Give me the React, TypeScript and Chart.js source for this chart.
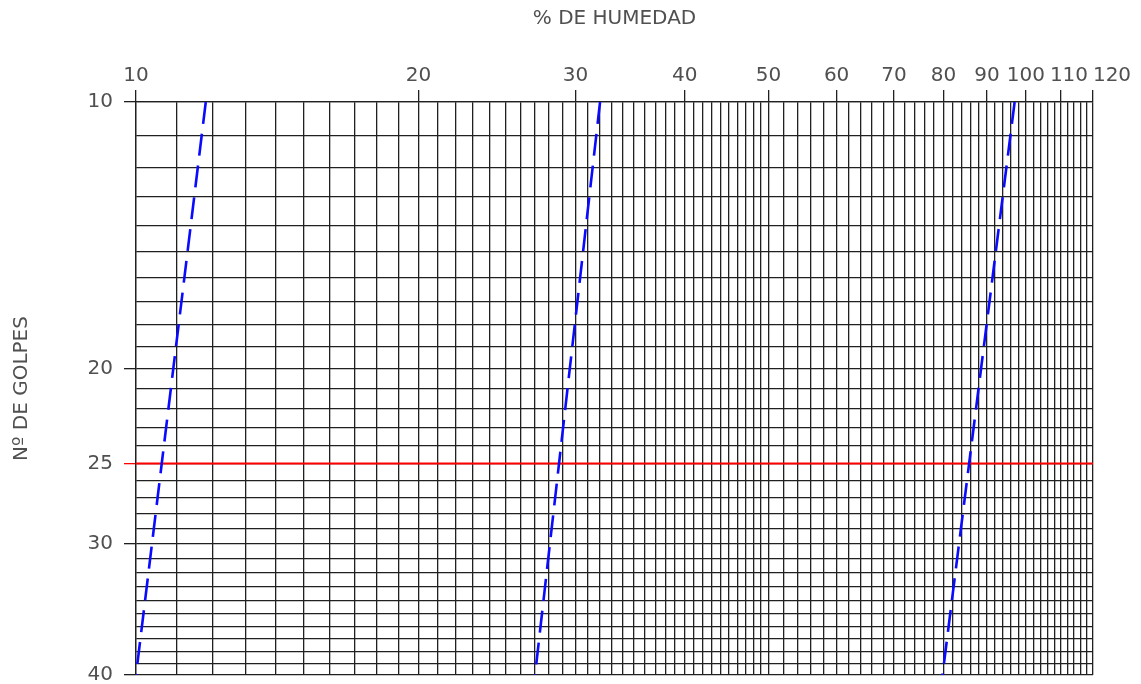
import React, { useEffect, useRef } from 'react';
import { Chart, registerables, LogarithmicScale } from 'chart.js';

Chart.register(...registerables);

// ---- data ----
const X_TICK_LABELS = [10, 20, 30, 40, 50, 60, 70, 80, 90, 100, 110, 120];
const Y_TICK_LABELS = [10, 20, 25, 30, 40];
// grid: every 1 % from 10 to 50, every 2 % from 50 to 120
const X_GRID_RANGES = [
  { from: 10, to: 50, step: 1 },
  { from: 52, to: 120, step: 2 },
];
const Y_GRID_RANGES = [{ from: 10, to: 40, step: 1 }];

const GOLPES_LIMITES = [10, 40];
const ENSAYO_1 = [11.8, 10.0];
const ENSAYO_2 = [32.0, 27.0];
const ENSAYO_3 = [97.0, 79.8];
const LINEA_25_X = [10, 120];
const GOLPES_REF = 25;

// ---- layout constants ----
const FONT_FAMILY = '"DejaVu Sans", "Liberation Sans", sans-serif';
const TEXT_COLOR = '#505050';
const GRID_COLOR = '#202020';
const LABEL_NUDGE: Record<string, Record<string, number>> = {
  x: { '110': 8, '120': 19 },
};

const expand = (ranges: { from: number; to: number; step: number }[]) => {
  const out: number[] = [];
  ranges.forEach((r) => {
    for (let v = r.from; v <= r.to + 1e-9; v += r.step) out.push(v);
  });
  return out;
};
const X_GRID = expand(X_GRID_RANGES);
const Y_GRID = expand(Y_GRID_RANGES);

class ShiftedLogScale extends LogarithmicScale {
  static id = 'shiftedLog';
  static defaults = {};
  _t(v: number) {
    return Math.log10(v + ((this.options as any).shift || 0));
  }
  getPixelForValue(value: number) {
    if (value === undefined || value === null || isNaN(value)) return NaN;
    const a = this._t(this.min);
    const b = this._t(this.max);
    return this.getPixelForDecimal((this._t(value) - a) / (b - a));
  }
  getValueForPixel(pixel: number) {
    const a = this._t(this.min);
    const b = this._t(this.max);
    const d = this.getDecimalForPixel(pixel);
    return Math.pow(10, a + d * (b - a)) - ((this.options as any).shift || 0);
  }
  _computeLabelItems(chartArea: any) {
    // @ts-ignore
    const items = super._computeLabelItems(chartArea);
    const nudge = LABEL_NUDGE[this.axis] || {};
    for (const it of items) {
      const n = nudge[String(it.label)];
      if (n) {
        const t = it.options.translation;
        it.options.translation = [t[0] + n, t[1]];
      }
    }
    return items;
  }
}
Chart.register(ShiftedLogScale as any);

export default function App() {
  const ref = useRef<HTMLCanvasElement | null>(null);
  useEffect(() => {
    if (!ref.current) return;
    const font = { family: FONT_FAMILY, size: 20, weight: 'normal' as const };
    const dashed = (label: string, xs: number[]) => ({
      label,
      data: GOLPES_LIMITES.map((y, i) => ({ x: xs[i], y })),
      borderColor: '#0a0aff',
      borderWidth: 2.6,
      borderDash: [22, 10],
      pointRadius: 0,
      fill: false,
      tension: 0,
    });
    const chart = new Chart(ref.current, {
      type: 'line',
      data: {
        datasets: [
          dashed('Ensayo 1', ENSAYO_1),
          dashed('Ensayo 2', ENSAYO_2),
          dashed('Ensayo 3', ENSAYO_3),
          {
            label: '25 golpes',
            data: LINEA_25_X.map((x) => ({ x, y: GOLPES_REF })),
            borderColor: '#ff0000',
            borderWidth: 2,
            pointRadius: 0,
            fill: false,
          },
        ],
      },
      options: {
        animation: false,
        responsive: false,
        layout: { padding: { left: 0, top: 0, right: 48, bottom: 9 } },
        plugins: { legend: { display: false }, tooltip: { enabled: false } },
        scales: {
          x: {
            type: 'shiftedLog' as any,
            position: 'top',
            min: 10,
            max: 120,
            shift: -1.5,
            afterBuildTicks: (s: any) => {
              s.ticks = X_GRID.map((v) => ({ value: v }));
            },
            afterFit: (s: any) => {
              s.height = 102;
              s.paddingLeft = 0;
              s.paddingRight = 0;
            },
            ticks: {
              autoSkip: false,
              maxRotation: 0,
              minRotation: 0,
              padding: 2,
              color: TEXT_COLOR,
              font,
              callback: (v: any) => (X_TICK_LABELS.includes(Number(v)) ? String(v) : ''),
            },
            grid: {
              color: GRID_COLOR,
              lineWidth: 1.3,
              tickLength: 12,
              tickColor: (ctx: any) =>
                X_TICK_LABELS.includes(ctx.tick?.value) ? GRID_COLOR : 'rgba(0,0,0,0)',
            },
            border: { display: true, color: GRID_COLOR, width: 1.3 },
            title: {
              display: true,
              text: '% DE HUMEDAD',
              color: TEXT_COLOR,
              font,
              padding: { top: 7, bottom: 0 },
            },
          } as any,
          y: {
            type: 'shiftedLog' as any,
            position: 'left',
            reverse: true,
            min: 10,
            max: 40,
            shift: 5,
            afterBuildTicks: (s: any) => {
              s.ticks = Y_GRID.map((v) => ({ value: v }));
            },
            afterFit: (s: any) => {
              s.width = 136;
              s.paddingTop = 0;
              s.paddingBottom = 0;
            },
            ticks: {
              autoSkip: false,
              padding: 11,
              color: TEXT_COLOR,
              font,
              callback: (v: any) => (Y_TICK_LABELS.includes(Number(v)) ? String(v) : ''),
            },
            grid: {
              color: GRID_COLOR,
              lineWidth: 1.3,
              tickLength: 12,
              tickColor: (ctx: any) => {
                const v = ctx.tick?.value;
                if (v === GOLPES_REF) return '#ff0000';
                return Y_TICK_LABELS.includes(v) ? GRID_COLOR : 'rgba(0,0,0,0)';
              },
            },
            border: { display: true, color: GRID_COLOR, width: 1.3 },
            title: {
              display: true,
              text: 'Nº DE GOLPES',
              color: TEXT_COLOR,
              font,
              padding: { top: 10, bottom: 0 },
            },
          } as any,
        },
      },
    });
    return () => chart.destroy();
  }, []);
  return (
    <div style={{ position: 'fixed', left: 0, top: 0, width: 1141, height: 684, background: '#fff' }}>
      <canvas ref={ref} width={1141} height={684} />
    </div>
  );
}
